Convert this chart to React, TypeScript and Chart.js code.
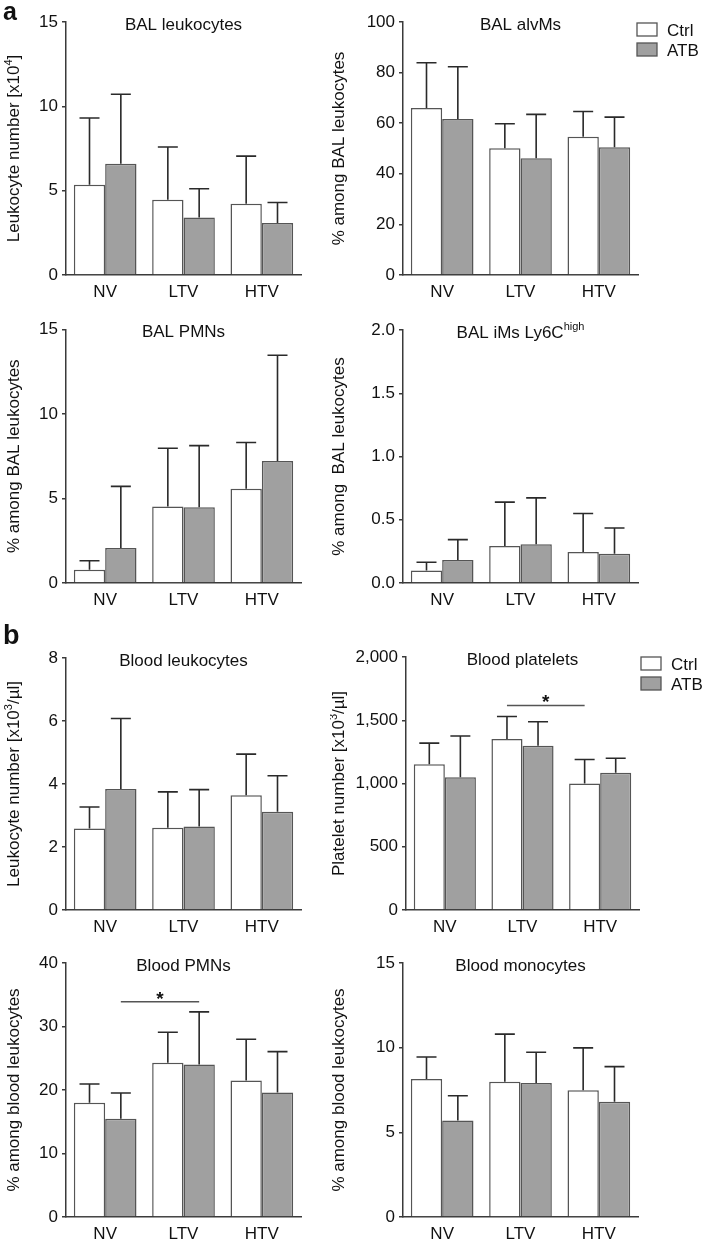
import React, { useEffect, useRef } from "react";
import { Chart, registerables } from "chart.js";

Chart.register(...registerables);

const categories = ["NV", "LTV", "HTV"];
const seriesNames = ["Ctrl", "ATB"];

// a: BAL
const balLeukoCtrl = [5.35, 4.46, 4.22];
const balLeukoCtrlSD = [3.96, 3.13, 2.83];
const balLeukoAtb = [6.6, 3.41, 3.09];
const balLeukoAtbSD = [4.12, 1.7, 1.21];

const balAlvCtrl = [66.0, 50.1, 54.6];
const balAlvCtrlSD = [17.9, 9.7, 10.0];
const balAlvAtb = [61.7, 46.1, 50.5];
const balAlvAtbSD = [20.6, 17.4, 11.9];

const balPmnCtrl = [0.79, 4.52, 5.57];
const balPmnCtrlSD = [0.53, 3.45, 2.74];
const balPmnAtb = [2.07, 4.48, 7.22];
const balPmnAtbSD = [3.65, 3.65, 6.26];

const balImCtrl = [0.098, 0.293, 0.245];
const balImCtrlSD = [0.066, 0.346, 0.305];
const balImAtb = [0.182, 0.306, 0.232];
const balImAtbSD = [0.161, 0.367, 0.203];

// b: Blood
const bloodLeukoCtrl = [2.59, 2.61, 3.64];
const bloodLeukoCtrlSD = [0.68, 1.14, 1.31];
const bloodLeukoAtb = [3.84, 2.65, 3.12];
const bloodLeukoAtbSD = [2.24, 1.17, 1.14];

const plateletCtrl = [1153, 1351, 1000];
const plateletCtrlSD = [166, 179, 190];
const plateletAtb = [1050, 1298, 1084];
const plateletAtbSD = [325, 190, 116];

const bloodPmnCtrl = [18.0, 24.3, 21.5];
const bloodPmnCtrlSD = [2.95, 4.8, 6.5];
const bloodPmnAtb = [15.47, 24.0, 19.6];
const bloodPmnAtbSD = [4.06, 8.3, 6.45];

const monoCtrl = [8.15, 7.99, 7.48];
const monoCtrlSD = [1.3, 2.81, 2.51];
const monoAtb = [5.7, 7.91, 6.81];
const monoAtbSD = [1.46, 1.82, 2.07];

const FONT = "'Liberation Sans', Arial, Helvetica, sans-serif";
const AXIS = "#3a3a3a";
const BORDER = "#555555";
const ERR = "#2a2a2a";
const GRAY = "#a0a0a0";

type Seg = { t: string; sup?: boolean };

function measureSegs(ctx: CanvasRenderingContext2D, segs: Seg[], size: number) {
  let w = 0;
  for (const s of segs) {
    ctx.font = `${s.sup ? Math.round(size * 0.65) : size}px ${FONT}`;
    w += ctx.measureText(s.t).width;
  }
  return w;
}
function drawSegs(ctx: CanvasRenderingContext2D, segs: Seg[], size: number, x0: number, y0: number) {
  let x = x0;
  for (const s of segs) {
    ctx.font = `${s.sup ? Math.round(size * 0.65) : size}px ${FONT}`;
    ctx.fillText(s.t, x, s.sup ? y0 - size * 0.42 : y0);
    x += ctx.measureText(s.t).width;
  }
}

const decorPlugin = {
  id: "decor",
  afterDatasetsDraw(chart: any) {
    const o = chart.options.plugins.decor;
    if (!o) return;
    const ctx: CanvasRenderingContext2D = chart.ctx;
    const ys = chart.scales.y;
    const area = chart.chartArea;
    ctx.save();
    // error bars
    chart.data.datasets.forEach((ds: any, di: number) => {
      const meta = chart.getDatasetMeta(di);
      meta.data.forEach((el: any, i: number) => {
        const top = ys.getPixelForValue(ds.data[i] + ds.sd[i]);
        ctx.strokeStyle = ERR;
        ctx.lineWidth = 1.6;
        ctx.beginPath();
        ctx.moveTo(el.x, el.y);
        ctx.lineTo(el.x, top);
        ctx.moveTo(el.x - 10, top);
        ctx.lineTo(el.x + 10, top);
        ctx.stroke();
      });
    });
    // significance
    if (o.sig) {
      const [c1, d1] = o.sig.from;
      const [c2, d2] = o.sig.to;
      const x1 = chart.getDatasetMeta(d1).data[c1].x;
      const x2 = chart.getDatasetMeta(d2).data[c2].x;
      const y = ys.getPixelForValue(o.sig.value);
      ctx.strokeStyle = "#555";
      ctx.lineWidth = 1.6;
      ctx.beginPath();
      ctx.moveTo(x1, y);
      ctx.lineTo(x2, y);
      ctx.stroke();
      ctx.fillStyle = "#111";
      ctx.font = `bold 19px ${FONT}`;
      ctx.textAlign = "center";
      ctx.textBaseline = "alphabetic";
      ctx.fillText("*", (x1 + x2) / 2, y + 3);
    }
    // title
    ctx.fillStyle = "#111";
    ctx.textAlign = "left";
    ctx.textBaseline = "alphabetic";
    const tw = measureSegs(ctx, o.title, 17);
    drawSegs(ctx, o.title, 17, (area.left + area.right) / 2 - tw / 2, area.top + 7.5);
    // y title
    const yw = measureSegs(ctx, o.yTitle, 17);
    ctx.save();
    ctx.translate(o.yTitleX, (area.top + area.bottom) / 2);
    ctx.rotate(-Math.PI / 2);
    drawSegs(ctx, o.yTitle, 17, -yw / 2, 0);
    ctx.restore();
    // legend
    if (o.legend) {
      const { x, y } = o.legend;
      chart.data.datasets.forEach((ds: any, di: number) => {
        const by = y + di * 20;
        ctx.fillStyle = ds.backgroundColor;
        ctx.fillRect(x, by, 20, 13);
        ctx.strokeStyle = "#555";
        ctx.lineWidth = 1.3;
        ctx.strokeRect(x, by, 20, 13);
        ctx.fillStyle = "#111";
        ctx.font = `17px ${FONT}`;
        ctx.fillText(ds.label, x + 30, by + 12.5);
      });
    }
    ctx.restore();
  },
};

type Panel = {
  left: number;
  top: number;
  width: number;
  height: number;
  areaLeft: number;
  areaRight: number;
  areaTop: number;
  areaBottom: number;
  ctrl: number[];
  ctrlSD: number[];
  atb: number[];
  atbSD: number[];
  max: number;
  step: number;
  fmt: (v: number) => string;
  title: Seg[];
  yTitle: Seg[];
  yTitleX: number;
  legend?: { x: number; y: number };
  sig?: { from: number[]; to: number[]; value: number };
};

const intFmt = (v: number) => String(v);
const oneDec = (v: number) => v.toFixed(1);
const commaFmt = (v: number) => v.toLocaleString("en-US");

const LEFT = { left: 0, width: 330, areaLeft: 66, areaRight: 301, yTitleX: 19 };
const RIGHT = { left: 330, width: 378, areaLeft: 403, areaRight: 638, yTitleX: 14 };

const panels: Panel[] = [
  {
    ...LEFT, top: 0, height: 310, areaTop: 22, areaBottom: 275,
    ctrl: balLeukoCtrl, ctrlSD: balLeukoCtrlSD, atb: balLeukoAtb, atbSD: balLeukoAtbSD,
    max: 15, step: 5, fmt: intFmt,
    title: [{ t: "BAL leukocytes" }],
    yTitle: [{ t: "Leukocyte number [x10" }, { t: "4", sup: true }, { t: "]" }],
  },
  {
    ...RIGHT, top: 0, height: 310, areaTop: 22, areaBottom: 275,
    ctrl: balAlvCtrl, ctrlSD: balAlvCtrlSD, atb: balAlvAtb, atbSD: balAlvAtbSD,
    max: 100, step: 20, fmt: intFmt,
    title: [{ t: "BAL alvMs" }],
    yTitle: [{ t: "% among BAL leukocytes" }],
    legend: { x: 637, y: 23 },
  },
  {
    ...LEFT, top: 310, height: 310, areaTop: 329.5, areaBottom: 583,
    ctrl: balPmnCtrl, ctrlSD: balPmnCtrlSD, atb: balPmnAtb, atbSD: balPmnAtbSD,
    max: 15, step: 5, fmt: intFmt,
    title: [{ t: "BAL PMNs" }],
    yTitle: [{ t: "% among BAL leukocytes" }],
  },
  {
    ...RIGHT, top: 310, height: 310, areaTop: 330, areaBottom: 583,
    ctrl: balImCtrl, ctrlSD: balImCtrlSD, atb: balImAtb, atbSD: balImAtbSD,
    max: 2, step: 0.5, fmt: oneDec,
    title: [{ t: "BAL iMs Ly6C" }, { t: "high", sup: true }],
    yTitle: [{ t: "% among  BAL leukocytes" }],
  },
  {
    ...LEFT, top: 620, height: 325, areaTop: 658, areaBottom: 910,
    ctrl: bloodLeukoCtrl, ctrlSD: bloodLeukoCtrlSD, atb: bloodLeukoAtb, atbSD: bloodLeukoAtbSD,
    max: 8, step: 2, fmt: intFmt,
    title: [{ t: "Blood leukocytes" }],
    yTitle: [{ t: "Leukocyte number [x10" }, { t: "3", sup: true }, { t: "/µl]" }],
  },
  {
    ...RIGHT, areaLeft: 406, areaRight: 639, top: 620, height: 325, areaTop: 657, areaBottom: 910,
    ctrl: plateletCtrl, ctrlSD: plateletCtrlSD, atb: plateletAtb, atbSD: plateletAtbSD,
    max: 2000, step: 500, fmt: commaFmt,
    title: [{ t: "Blood platelets" }],
    yTitle: [{ t: "Platelet number [x10" }, { t: "3", sup: true }, { t: "/µl]" }],
    legend: { x: 641, y: 657 },
    sig: { from: [1, 0], to: [2, 0], value: 1617 },
  },
  {
    ...LEFT, top: 945, height: 295, areaTop: 963, areaBottom: 1217,
    ctrl: bloodPmnCtrl, ctrlSD: bloodPmnCtrlSD, atb: bloodPmnAtb, atbSD: bloodPmnAtbSD,
    max: 40, step: 10, fmt: intFmt,
    title: [{ t: "Blood PMNs" }],
    yTitle: [{ t: "% among blood leukocytes" }],
    sig: { from: [0, 1], to: [1, 1], value: 33.9 },
  },
  {
    ...RIGHT, top: 945, height: 295, areaTop: 963, areaBottom: 1217,
    ctrl: monoCtrl, ctrlSD: monoCtrlSD, atb: monoAtb, atbSD: monoAtbSD,
    max: 15, step: 5, fmt: intFmt,
    title: [{ t: "Blood monocytes" }],
    yTitle: [{ t: "% among blood leukocytes" }],
  },
];

function PanelChart({ p }: { p: Panel }) {
  const ref = useRef<HTMLCanvasElement>(null);
  useEffect(() => {
    if (!ref.current) return;
    const yWidth = p.areaLeft - p.left;
    const xHeight = p.top + p.height - p.areaBottom;
    const chart = new Chart(ref.current, {
      type: "bar",
      data: {
        labels: categories,
        datasets: [
          {
            label: seriesNames[0],
            data: p.ctrl,
            sd: p.ctrlSD,
            backgroundColor: "#ffffff",
            borderColor: BORDER,
            borderWidth: 1.5,
            categoryPercentage: 0.8,
            barPercentage: 1.0,
          } as any,
          {
            label: seriesNames[1],
            data: p.atb,
            sd: p.atbSD,
            backgroundColor: GRAY,
            borderColor: BORDER,
            borderWidth: 1.5,
            categoryPercentage: 0.8,
            barPercentage: 1.0,
          } as any,
        ],
      },
      options: {
        responsive: false,
        animation: false,
        events: [],
        layout: {
          padding: {
            left: 0,
            top: p.areaTop - p.top,
            right: p.left + p.width - p.areaRight,
            bottom: 0,
          },
        },
        plugins: {
          legend: { display: false },
          tooltip: { enabled: false },
          decor: {
            title: p.title,
            yTitle: p.yTitle,
            yTitleX: p.yTitleX,
            legend: p.legend ? { x: p.legend.x - p.left, y: p.legend.y - p.top } : null,
            sig: p.sig,
          },
        } as any,
        scales: {
          x: {
            grid: { display: false, drawTicks: false },
            border: { display: true, color: AXIS, width: 1.5 },
            ticks: { color: "#111", font: { family: FONT, size: 17 }, padding: 7 },
            afterFit: (s: any) => {
              s.height = xHeight;
            },
          },
          y: {
            min: 0,
            max: p.max,
            grid: { display: true, drawOnChartArea: false, drawTicks: true, tickLength: 4, color: AXIS, lineWidth: 1.5 },
            border: { display: true, color: AXIS, width: 1.5 },
            ticks: {
              stepSize: p.step,
              color: "#111",
              font: { family: FONT, size: 17 },
              padding: 4,
              callback: (v: any) => p.fmt(Number(v)),
            },
            afterFit: (s: any) => {
              s.width = yWidth;
            },
          },
        },
      },
      plugins: [decorPlugin],
    });
    return () => chart.destroy();
  }, [p]);
  return (
    <canvas
      ref={ref}
      width={p.width}
      height={p.height}
      style={{ position: "absolute", left: p.left, top: p.top, width: p.width, height: p.height }}
    />
  );
}

export default function App() {
  return (
    <div style={{ position: "absolute", left: 0, top: 0, width: 708, height: 1240, background: "#fff", overflow: "hidden" }}>
      {panels.map((p, i) => (
        <PanelChart key={i} p={p} />
      ))}
      <div style={{ position: "absolute", left: 3, top: -3, fontFamily: FONT, fontWeight: "bold", fontSize: 25, color: "#111" }}>a</div>
      <div style={{ position: "absolute", left: 3, top: 620, fontFamily: FONT, fontWeight: "bold", fontSize: 27, color: "#111" }}>b</div>
    </div>
  );
}
